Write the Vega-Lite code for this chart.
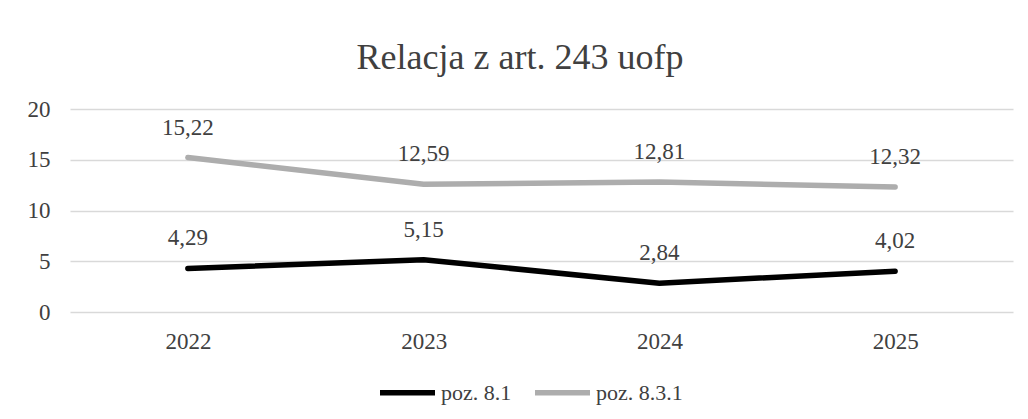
{
  "$schema": "https://vega.github.io/schema/vega-lite/v6.json",
  "autosize": {"type": "none"},
  "width": 943,
  "height": 203,
  "padding": {"left": 70, "top": 109, "right": 15, "bottom": 107},
  "background": "white",
  "config": {
    "locale": {"number": {"decimal": ",", "thousands": " ", "grouping": [3], "currency": ["", " zł"]}},
    "view": {"stroke": null},
    "font": "'Liberation Serif', 'Times New Roman', serif"
  },
  "title": {
    "text": "Relacja z art. 243 uofp",
    "font": "'Liberation Serif', 'Times New Roman', serif",
    "fontSize": 36,
    "fontWeight": "normal",
    "color": "#404040",
    "anchor": "middle",
    "frame": "bounds",
    "offset": 21
  },
  "data": {
    "values": [
      {"rok": "2022", "seria": "poz. 8.1", "wartosc": 4.29},
      {"rok": "2023", "seria": "poz. 8.1", "wartosc": 5.15},
      {"rok": "2024", "seria": "poz. 8.1", "wartosc": 2.84},
      {"rok": "2025", "seria": "poz. 8.1", "wartosc": 4.02},
      {"rok": "2022", "seria": "poz. 8.3.1", "wartosc": 15.22},
      {"rok": "2023", "seria": "poz. 8.3.1", "wartosc": 12.59},
      {"rok": "2024", "seria": "poz. 8.3.1", "wartosc": 12.81},
      {"rok": "2025", "seria": "poz. 8.3.1", "wartosc": 12.32}
    ]
  },
  "encoding": {
    "x": {
      "field": "rok", "type": "ordinal",
      "scale": {"type": "point", "padding": 0.5},
      "axis": {
        "title": null, "labelAngle": 0, "ticks": false, "domain": false, "grid": false,
        "labelFont": "'Liberation Serif', 'Times New Roman', serif", "labelFontSize": 23, "labelColor": "#404040",
        "labelPadding": 18
      }
    },
    "y": {
      "field": "wartosc", "type": "quantitative",
      "scale": {"domain": [0, 20]},
      "axis": {
        "title": null, "values": [0, 5, 10, 15, 20], "ticks": false, "domain": false,
        "gridColor": "#d9d9d9", "gridWidth": 1.5,
        "labelFont": "'Liberation Serif', 'Times New Roman', serif", "labelFontSize": 23, "labelColor": "#404040",
        "labelPadding": 20
      }
    },
    "color": {
      "field": "seria", "type": "nominal",
      "scale": {"domain": ["poz. 8.1", "poz. 8.3.1"], "range": ["#000000", "#ADADAD"]},
      "legend": {
        "title": null, "orient": "none", "direction": "horizontal",
        "legendX": 307, "legendY": 253,
        "symbolType": "stroke", "symbolSize": 3025, "symbolStrokeWidth": 5.5,
        "labelFont": "'Liberation Serif', 'Times New Roman', serif", "labelFontSize": 22, "labelColor": "#404040",
        "labelOffset": 3, "columnPadding": 12
      }
    }
  },
  "layer": [
    {
      "mark": {"type": "line", "strokeWidth": 5.5, "strokeCap": "round", "strokeJoin": "round"}
    },
    {
      "mark": {"type": "text", "dy": -30, "fontSize": 23, "font": "'Liberation Serif', 'Times New Roman', serif", "color": "#404040"},
      "encoding": {
        "text": {"field": "wartosc", "type": "quantitative", "format": ".2f"},
        "color": {"value": "#404040"}
      }
    }
  ]
}
